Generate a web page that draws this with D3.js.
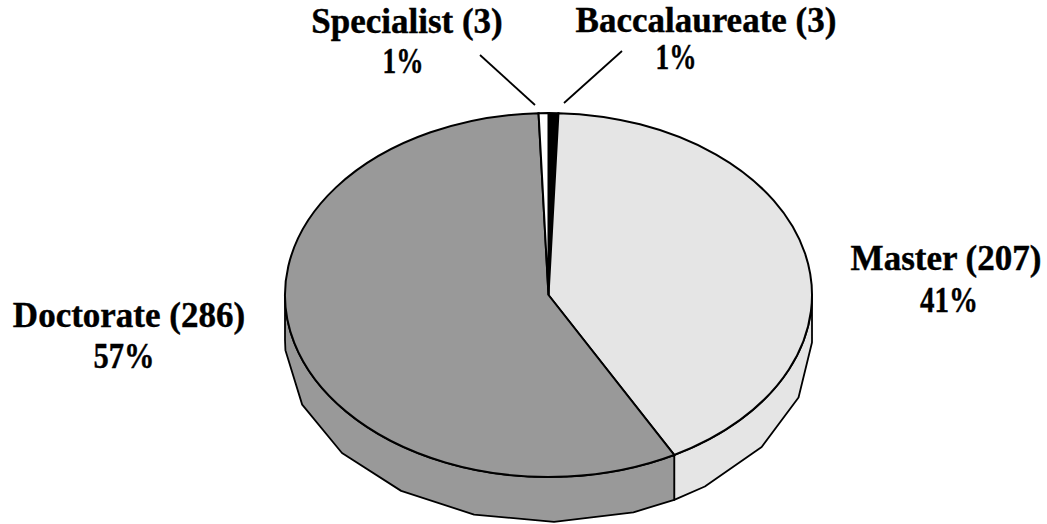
<!DOCTYPE html>
<html>
<head>
<meta charset="utf-8">
<script src="https://cdnjs.cloudflare.com/ajax/libs/d3/7.8.5/d3.min.js"></script>
<style>
  html, body { margin: 0; padding: 0; background: #fff; }
  svg { display: block; }
  text { font-family: "Liberation Serif", serif; font-weight: bold; font-size: 35px; fill: #000; stroke: #000; stroke-width: 0.4px; text-anchor: middle; }
</style>
</head>
<body>
<svg id="chart" width="1047" height="524"></svg>
<script>
//  chart values, clockwise from the top
const categories = ["Baccalaureate", "Master", "Doctorate", "Specialist"];
const counts = [3, 207, 286, 3];
const percents = [1, 41, 57, 1];
const colors = ["#000000", "#e5e5e5", "#999999", "#ffffff"];

//  label anchors in the same order: name x, name y, percent x, percent y
const label_spots = [[706, 32, 676, 69], [946, 270, 949, 312], [129, 327, 124, 368], [407, 33, 403, 73]];
const percent_widths = [41, 58, 61, 41];
const leaders = [[622, 51, 564, 103], null, null, [480, 55, 535, 105]];

const cx = 548.5, cy = 295, rx = 263.5, ry = 182, depth = 45;
const side_step = 17.6 * Math.PI / 180;
const side_phase = 0.0489;

const svg = d3.select("#chart");

const slices = d3.pie().sort(null).value((d) => d)(counts);

const ellipse_x = (t) => cx + rx * Math.sin(t);
const ellipse_y = (t) => cy - ry * Math.cos(t);
const line = d3.line().x((d) => d[0]).y((d) => d[1]);

//  side wall: smooth rim on top, coarse polygon at the bottom
function side_path(a0, a1) {
  const top = d3.range(a0, a1, 0.01).concat([a1]).map((t) => [ellipse_x(t), ellipse_y(t)]);
  const first = Math.ceil((a0 - side_phase) / side_step);
  const inner = d3.range(first, Math.floor((a1 - side_phase) / side_step) + 1)
    .map((i) => i * side_step + side_phase)
    .filter((t) => t > a0 && t < a1);
  const bottom = [a0].concat(inner, [a1]).reverse().map((t) => [ellipse_x(t), ellipse_y(t) + depth]);
  return line(top.concat(bottom)) + "Z";
}

//  only the front half has a visible wall
slices.forEach((s) => {
  const a0 = Math.max(s.startAngle, Math.PI / 2);
  const a1 = Math.min(s.endAngle, Math.PI * 3 / 2);
  if (a1 <= a0) return;
  svg.append("path")
    .attr("d", side_path(a0, a1))
    .attr("fill", colors[s.index])
    .attr("stroke", "#000")
    .attr("stroke-width", 1.8)
    .attr("stroke-linejoin", "round");
});

//  top face
const arc = d3.arc().innerRadius(0).outerRadius(rx);
svg.append("g")
  .attr("transform", `translate(${cx},${cy}) scale(1,${ry / rx})`)
  .selectAll("path")
  .data(slices)
  .join("path")
    .attr("d", arc)
    .attr("fill", (d) => colors[d.index])
    .attr("stroke", "#000")
    .attr("stroke-width", 2)
    .attr("vector-effect", "non-scaling-stroke");

//  labels
categories.forEach((name, i) => {
  const p = label_spots[i];
  svg.append("text").attr("x", p[0]).attr("y", p[1]).text(name + " (" + counts[i] + ")");
  svg.append("text").attr("x", p[2]).attr("y", p[3])
    .attr("textLength", percent_widths[i])
    .attr("lengthAdjust", "spacingAndGlyphs")
    .text(percents[i] + "%");
  if (leaders[i]) {
    svg.append("line")
      .attr("x1", leaders[i][0]).attr("y1", leaders[i][1])
      .attr("x2", leaders[i][2]).attr("y2", leaders[i][3])
      .attr("stroke", "#000")
      .attr("stroke-width", 1.8);
  }
});
</script>
</body>
</html>
